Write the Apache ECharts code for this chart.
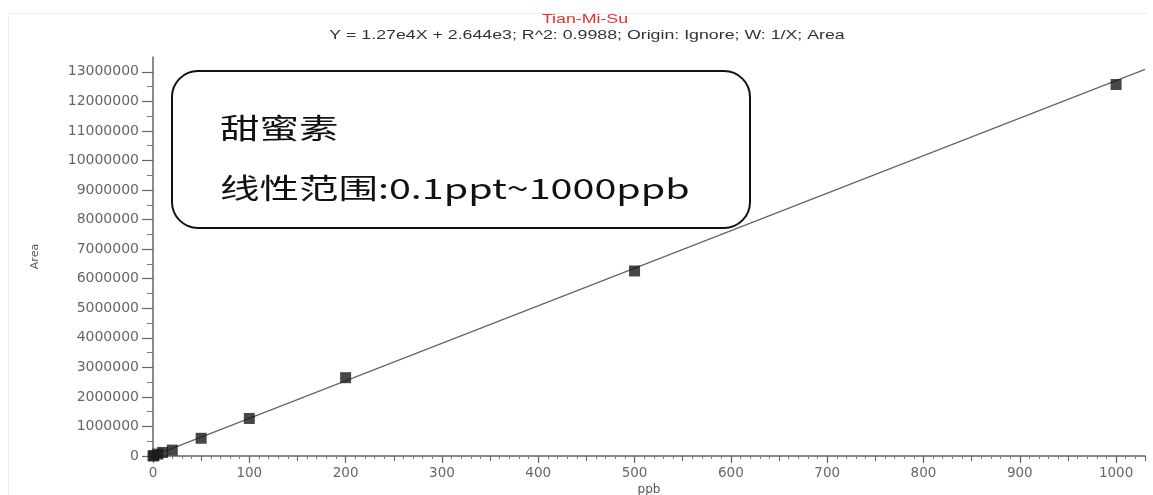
<!DOCTYPE html>
<html><head><meta charset="utf-8">
<script src="https://cdn.jsdelivr.net/npm/echarts@6/dist/echarts.min.js"></script>
<style>html,body{margin:0;padding:0;background:#fff}#c{width:1153px;height:495px}</style>
</head><body><div id="c"></div>
<script>
const titleText = 'Tian-Mi-Su';
const subtitleText = 'Y = 1.27e4X + 2.644e3; R^2: 0.9988; Origin: Ignore; W: 1/X; Area';
const boxLine1 = '甜蜜素';
const boxLine2 = '线性范围:0.1ppt~1000ppb';
const concX = [0.0001, 1, 5, 10, 20, 50, 100, 200, 500, 1000];
const areaY = [1500, 15000, 65000, 120000, 200000, 600000, 1270000, 2650000, 6260000, 12570000];
const fitX = [0, 1030];
const fitY = [2644, 13083644];
const xTicks = [0,100,200,300,400,500,600,700,800,900,1000];
const yTicks = [0,1000000,2000000,3000000,4000000,5000000,6000000,7000000,8000000,9000000,10000000,11000000,12000000,13000000];

const chart = echarts.init(document.getElementById('c'), null, {renderer:'canvas'});
const axisFont = 'DejaVu Sans';
const plain = v => String(v);
chart.setOption({
  animation:false,
  backgroundColor:'#fff',
  grid:{left:153, right:8, top:57, bottom:39, containLabel:false, outerBoundsMode:'none'},
  xAxis:[{
    type:'value', min:0, max:1030, interval:100,
    name:'ppb', nameLocation:'middle', nameGap:28, nameMoveOverlap:false,
    nameTextStyle:{fontFamily:axisFont, fontSize:12, color:'#555'},
    axisLine:{lineStyle:{color:'#666', width:1.5}},
    axisTick:{show:true, length:7, lineStyle:{color:'#666', width:1.2}, customValues:xTicks},
    minorTick:{show:true, splitNumber:10, length:3, lineStyle:{color:'#777', width:1}},
    axisLabel:{fontFamily:axisFont, fontSize:13.5, color:'#666', margin:10, customValues:xTicks, formatter:plain},
    splitLine:{show:false}
  },{
    type:'value', min:0, max:1030, interval:50, position:'bottom',
    axisLine:{show:false},
    axisTick:{show:true, length:5, lineStyle:{color:'#666', width:1.1}},
    axisLabel:{show:false}, splitLine:{show:false}
  }],
  yAxis:{
    type:'value', min:0, max:13500000, interval:1000000,
    name:'Area', nameLocation:'middle', nameGap:112, nameMoveOverlap:false,
    nameTextStyle:{fontFamily:axisFont, fontSize:11, color:'#555'},
    axisLine:{show:true, lineStyle:{color:'#666', width:1.5}},
    axisTick:{show:true, length:11, lineStyle:{color:'#666', width:1.2}, customValues:yTicks},
    minorTick:{show:true, splitNumber:2, length:6, lineStyle:{color:'#777', width:1}},
    axisLabel:{fontFamily:axisFont, fontSize:14, color:'#666', margin:14, customValues:yTicks, formatter:plain},
    splitLine:{show:false}
  },
  graphic:[
    {type:'line', shape:{x1:8, y1:13.5, x2:1148, y2:13.5}, style:{stroke:'#eeeeee', lineWidth:1}, silent:true, z:-1},
    {type:'line', shape:{x1:8.5, y1:13.5, x2:8.5, y2:495}, style:{stroke:'#f0f0f0', lineWidth:1}, silent:true, z:-1},
    {type:'text', x:585, y:20, scaleX:1.48, style:{text:titleText, fill:'#e8302a', font:'12px "Liberation Sans"', textAlign:'center', textVerticalAlign:'middle'}},
    {type:'text', x:587, y:35.5, scaleX:1.48, style:{text:subtitleText, fill:'#333', font:'12px "Liberation Sans"', textAlign:'center', textVerticalAlign:'middle'}},
    {type:'rect', shape:{x:172, y:71, width:578, height:157, r:26}, style:{fill:'#fff', stroke:'#111', lineWidth:2}, z:10},
    {type:'text', x:220, y:128, scaleX:1.41, z:11, style:{text:boxLine1, fill:'#111', font:'28px "Noto Sans CJK SC"', textVerticalAlign:'middle'}},
    {type:'text', x:220, y:188, scaleX:1.41, z:11, style:{text:boxLine2, fill:'#111', font:'28px "Noto Sans CJK SC"', textVerticalAlign:'middle'}}
  ],
  series:[
    {type:'line', data:fitX.map((x,i)=>[x,fitY[i]]), showSymbol:false, symbol:'none',
     lineStyle:{color:'#666', width:1.3}, z:2},
    {type:'scatter', data:concX.map((x,i)=>[x,areaY[i]]), symbol:'rect', symbolSize:11,
     itemStyle:{color:'#1a1a1a'}, z:3}
  ]
});
</script></body></html>
